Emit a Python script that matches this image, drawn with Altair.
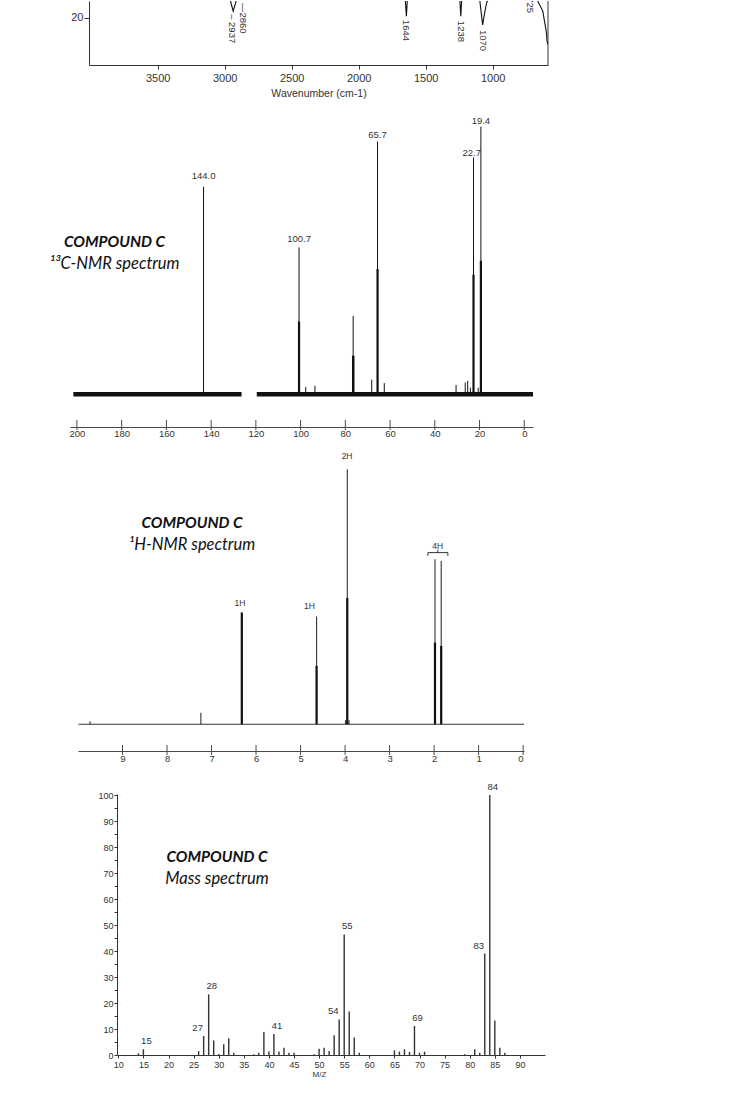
import altair as alt
import pandas as pd

# ---------------- IR spectrum (upper part cut off in the picture) ----------------
IR_WN = [4010, 3100, 2990, 2937, 2900, 2860, 2820, 1660, 1644, 1630, 1252, 1238, 1224,
         1110, 1075, 1060, 1045, 1025, 1000, 760, 725, 700, 664, 626, 600, 594, 587]
IR_T = [40, 35, 30, 22.0, 27, 25.6, 30, 30, 20.5, 30, 30, 20.5, 30,
        30, 17.9, 21.5, 24.5, 26, 30, 30, 26, 27, 25, 22, 16, 13.1, 12]
IR_LABELS = ["\u2013 2937", "\u20142860", "1644", "1238", "1070", "725"]
IR_LABEL_WN = [2945, 2860, 1644, 1238, 1070, 725]
IR_LABEL_T = [21.1, 24.4, 19.4, 19.1, 16.4, 26.1]
IR_XTICKS = [3500, 3000, 2500, 2000, 1500, 1000]
IR_YTICKS = [20]
IR_XTITLE = "Wavenumber (cm-1)"

# ---------------- 13C NMR ----------------
C13_BASE_FROM = [201.6, 119.6]
C13_BASE_TO = [126.4, -3.9]
C13_PPM = [143.4, 100.7, 97.7, 93.6, 76.8, 76.5, 76.2, 68.2, 65.6, 62.6,
           30.5, 26.4, 25.3, 24.1, 22.7, 20.6, 19.4]
C13_INT = [77.6, 54.9, 2.8, 3.2, 14.4, 29.3, 14.4, 5.5, 94.5, 4.2,
           3.5, 4.4, 5.0, 2.5, 88.5, 2.5, 100.0]
C13_CORE_PPM = [100.7, 76.5, 65.6, 22.7, 19.4]
C13_CORE_INT = [27.2, 14.4, 46.8, 44.7, 49.9]
C13_LABELS = ["144.0", "100.7", "65.7", "22.7", "19.4"]
C13_LABEL_PPM = [143.4, 100.7, 65.6, 23.5, 19.4]
C13_LABEL_INT = [81.6, 58.2, 97.0, 90.0, 102.0]
C13_TICKS = [200, 180, 160, 140, 120, 100, 80, 60, 40, 20, 0]

# ---------------- 1H NMR ----------------
H1_BASE = [9.99, -0.02]
H1_PPM = [9.73, 7.24, 6.32, 4.64, 3.99, 3.95, 3.91, 1.98, 1.84]
H1_INT = [1.2, 4.5, 43.8, 42.2, 1.6, 100.0, 1.6, 64.7, 64.0]
H1_CORE_PPM = [6.32, 4.64, 3.95, 1.98, 1.84]
H1_CORE_INT = [43.8, 22.9, 49.5, 32.0, 30.7]
H1_LABELS = ["1H", "1H", "2H", "4H"]
H1_LABEL_PPM = [6.36, 4.80, 3.955, 1.917]
H1_LABEL_INT = [47.5, 46.5, 105.2, 70.0]
H1_GROUP = [2.14, 1.69]          # bracket over the 4H pair
H1_GROUP_INT = [66.0, 67.3, 68.4]
H1_TICKS = [9, 8, 7, 6, 5, 4, 3, 2, 1, 0]

# ---------------- Mass spectrum ----------------
MS_MZ = [14, 15, 26, 27, 28, 29, 30, 31, 32, 33, 37, 38, 39, 40, 41, 42, 43, 44, 45,
         49, 50, 51, 52, 53, 54, 55, 56, 57, 58, 65, 66, 67, 68, 69, 70, 71,
         79, 81, 82, 83, 84, 85, 86, 87]
MS_INT = [0.6, 2.2, 1.5, 7.3, 23.3, 5.6, 0.4, 4.1, 6.4, 0.9, 0.3, 0.9, 8.8, 1.3, 8.1, 1.3, 2.8, 0.9, 0.9,
          0.3, 2.4, 2.8, 1.5, 7.6, 13.7, 46.4, 16.7, 6.7, 0.9, 1.8, 1.3, 2.2, 1.2, 11.2, 0.9, 1.3,
          0.3, 2.2, 0.9, 39.0, 100.0, 13.3, 2.8, 0.9]
MS_LABELED_RIGHT = [15, 28, 41, 55, 69, 84]
MS_LABELED_LEFT = [27, 54, 83]
MS_XTICKS = list(range(10, 91, 5))
MS_YTICKS = list(range(0, 101, 5))
MS_XTITLE = "M/Z"

TITLE = "COMPOUND C"
SUBTITLES = ["\u00b9\u00b3C-NMR spectrum", "\u00b9H-NMR spectrum", "Mass spectrum"]

# ---------------- styling / layout ----------------
INK = "#111111"
GREY = "#333333"
AXC = "#4a4a4a"
FA = "Liberation Sans"
FT = "Lato"

L_IR, W_IR, H_IR = 88, 459, 64
IR_XDOM, IR_YDOM = [4013, 587], [6, 25]
L_C, W_C, H_C = 69, 463, 319
C_XDOM, C_YDOM = [203.1, -3.9], [-12.2, 107.0]
L_H, W_H, H_H = 77, 446, 281
H_XDOM, H_YDOM = [10.0, -0.02], [-10.5, 99.7]
L_M, W_M, H_M = 116, 428, 261
M_XDOM, M_YDOM = [9.74, 95.0], [0, 100.4]
GAP = 43
TOP_C = H_IR + GAP
TOP_H = TOP_C + H_C + GAP
TOP_M = TOP_H + H_H + GAP


def anchor():
    # tiny white mark at the panel's left edge so every row starts at x = 0
    return alt.Chart(pd.DataFrame({"v": [0]})).mark_rule(color="white").encode(
        x=alt.value(0), x2=alt.value(1), y=alt.value(0))


def titles(sub, cx, cy):
    d = pd.DataFrame({"v": [0]})
    t1 = alt.Chart(d).mark_text(text=TITLE, font=FT, fontSize=15.5, fontWeight="bold",
                                fontStyle="italic", color=INK, align="center",
                                baseline="middle").encode(x=alt.value(cx), y=alt.value(cy))
    t2 = alt.Chart(d).mark_text(text=sub, font=FT, fontSize=16.5, fontStyle="italic",
                                color=INK, align="center",
                                baseline="middle").encode(x=alt.value(cx), y=alt.value(cy + 22))
    return [t1, t2]


# ===== IR panel =====
ixs = alt.Scale(domain=IR_XDOM, range=[L_IR, L_IR + W_IR], nice=False, zero=False)
iys = alt.Scale(domain=IR_YDOM, nice=False, zero=False)
IR_XAX = alt.Axis(values=IR_XTICKS, format="d", title=IR_XTITLE, tickSize=4, labelFontSize=11,
                  titleFontSize=10.5, titleFontWeight="normal", labelPadding=3,
                  titlePadding=5, domainColor=GREY, tickColor=GREY, grid=False)
IR_YAX = alt.Axis(values=IR_YTICKS, format="d", title=None, tickSize=5, labelFontSize=11,
                  labelPadding=1, offset=-L_IR, domainColor=GREY, tickColor=GREY, grid=False)
ir_df = pd.DataFrame({"wn": IR_WN, "t": IR_T})
ir_line = alt.Chart(ir_df).mark_line(clip=True, color=INK, strokeWidth=1.1).encode(
    x=alt.X("wn:Q", scale=ixs, axis=IR_XAX),
    y=alt.Y("t:Q", scale=iys, axis=IR_YAX),
)
ir_frame = alt.Chart(pd.DataFrame({"wn": [IR_XDOM[1]]})).mark_rule(color=GREY).encode(
    x=alt.X("wn:Q", scale=ixs, axis=IR_XAX), y=alt.value(0), y2=alt.value(H_IR)
)
ir_lab = alt.Chart(pd.DataFrame({"wn": IR_LABEL_WN, "t": IR_LABEL_T, "s": IR_LABELS})).mark_text(
    angle=90, align="left", baseline="middle", font=FA, fontSize=9.5, color=GREY, clip=True
).encode(x=alt.X("wn:Q", scale=ixs, axis=IR_XAX), y=alt.Y("t:Q", scale=iys, axis=IR_YAX), text="s:N")
ir = alt.layer(anchor(), ir_line, ir_frame, ir_lab).properties(width=L_IR + W_IR, height=H_IR)

# ===== 13C panel =====
cxs = alt.Scale(domain=C_XDOM, range=[L_C, L_C + W_C], nice=False, zero=False)
cys = alt.Scale(domain=C_YDOM, nice=False, zero=False)
C_XAX = alt.Axis(values=C13_TICKS, format="d", title=None, ticks=False, tickSize=0,
                 labelFontSize=9.5, labelPadding=1, domainColor=AXC, labelColor=GREY, grid=False)
c_base = alt.Chart(pd.DataFrame({"a": C13_BASE_FROM, "b": C13_BASE_TO, "z": [0, 0]})).mark_rule(
    color=INK, strokeWidth=4.5
).encode(x=alt.X("a:Q", scale=cxs, axis=C_XAX), x2="b:Q", y=alt.Y("z:Q", scale=cys, axis=None))
c_pk = alt.Chart(pd.DataFrame({"p": C13_PPM, "h": C13_INT, "z": 0})).mark_rule(
    color=INK, strokeWidth=1
).encode(x=alt.X("p:Q", scale=cxs, axis=C_XAX), y=alt.Y("z:Q", scale=cys, axis=None), y2="h:Q")
c_core = alt.Chart(pd.DataFrame({"p": C13_CORE_PPM, "h": C13_CORE_INT, "z": 0})).mark_rule(
    color=INK, strokeWidth=2.2
).encode(x=alt.X("p:Q", scale=cxs, axis=C_XAX), y=alt.Y("z:Q", scale=cys, axis=None), y2="h:Q")
c_lab = alt.Chart(pd.DataFrame({"p": C13_LABEL_PPM, "h": C13_LABEL_INT, "s": C13_LABELS})).mark_text(
    font=FA, fontSize=9.5, color=GREY, baseline="middle"
).encode(x=alt.X("p:Q", scale=cxs, axis=C_XAX), y=alt.Y("h:Q", scale=cys, axis=None), text="s:N")
c_tk = alt.Chart(pd.DataFrame({"t": C13_TICKS})).mark_rule(color=AXC).encode(
    x=alt.X("t:Q", scale=cxs, axis=C_XAX), y=alt.value(H_C - 7), y2=alt.value(H_C + 3)
)
c13 = alt.layer(anchor(), c_base, c_pk, c_core, c_lab, c_tk,
                *titles(SUBTITLES[0], 113.5, 241 - TOP_C)).properties(width=L_C + W_C, height=H_C)

# ===== 1H panel =====
hxs = alt.Scale(domain=H_XDOM, range=[L_H, L_H + W_H], nice=False, zero=False)
hys = alt.Scale(domain=H_YDOM, nice=False, zero=False)
H_XAX = alt.Axis(values=H1_TICKS, format="d", title=None, ticks=False, tickSize=0,
                 labelFontSize=9.5, labelPadding=2, domainColor=AXC, labelColor=GREY, grid=False)
h_base = alt.Chart(pd.DataFrame({"a": [H1_BASE[0]], "b": [H1_BASE[1]], "z": [0]})).mark_rule(
    color=GREY, strokeWidth=1.2
).encode(x=alt.X("a:Q", scale=hxs, axis=H_XAX), x2="b:Q", y=alt.Y("z:Q", scale=hys, axis=None))
h_pk = alt.Chart(pd.DataFrame({"p": H1_PPM, "h": H1_INT, "z": 0})).mark_rule(
    color=GREY, strokeWidth=1.1
).encode(x=alt.X("p:Q", scale=hxs, axis=H_XAX), y=alt.Y("z:Q", scale=hys, axis=None), y2="h:Q")
h_core = alt.Chart(pd.DataFrame({"p": H1_CORE_PPM, "h": H1_CORE_INT, "z": 0})).mark_rule(
    color=INK, strokeWidth=2.2
).encode(x=alt.X("p:Q", scale=hxs, axis=H_XAX), y=alt.Y("z:Q", scale=hys, axis=None), y2="h:Q")
h_lab = alt.Chart(pd.DataFrame({"p": H1_LABEL_PPM, "h": H1_LABEL_INT, "s": H1_LABELS})).mark_text(
    font=FA, fontSize=8.5, color=GREY, baseline="middle"
).encode(x=alt.X("p:Q", scale=hxs, axis=H_XAX), y=alt.Y("h:Q", scale=hys, axis=None), text="s:N")
br_df = pd.DataFrame({
    "p": [H1_GROUP[0], H1_GROUP[0], H1_GROUP[1], H1_GROUP[1]],
    "h": [H1_GROUP_INT[0], H1_GROUP_INT[1], H1_GROUP_INT[1], H1_GROUP_INT[0]],
    "o": [0, 1, 2, 3],
})
h_br = alt.Chart(br_df).mark_line(color=GREY, strokeWidth=1).encode(
    x=alt.X("p:Q", scale=hxs, axis=H_XAX), y=alt.Y("h:Q", scale=hys, axis=None), order="o:Q"
)
h_brt = alt.Chart(pd.DataFrame({"p": [H1_LABEL_PPM[3]], "a": [H1_GROUP_INT[1]], "b": [H1_GROUP_INT[2]]})).mark_rule(
    color=GREY
).encode(x=alt.X("p:Q", scale=hxs, axis=H_XAX), y=alt.Y("a:Q", scale=hys, axis=None), y2="b:Q")
h_tk = alt.Chart(pd.DataFrame({"t": H1_TICKS})).mark_rule(color=AXC).encode(
    x=alt.X("t:Q", scale=hxs, axis=H_XAX), y=alt.value(H_H - 6), y2=alt.value(H_H + 4)
)
h1 = alt.layer(anchor(), h_base, h_pk, h_core, h_lab, h_br, h_brt, h_tk,
               *titles(SUBTITLES[1], 191, 522 - TOP_H)).properties(width=L_H + W_H, height=H_H)

# ===== Mass spectrum panel =====
mxs = alt.Scale(domain=M_XDOM, range=[L_M, L_M + W_M], nice=False, zero=False)
mys = alt.Scale(domain=M_YDOM, nice=False, zero=False)
M_XAX = alt.Axis(values=MS_XTICKS, format="d", title=MS_XTITLE, tickSize=3, labelFontSize=9,
                 labelPadding=2, titleFontSize=8, titleFontWeight="normal", titlePadding=1,
                 titleX=318, domainColor=GREY, tickColor=GREY, labelColor=GREY,
                 titleColor=GREY, grid=False)
M_YAX = alt.Axis(values=MS_YTICKS, format="d", title=None, tickSize=3,
                 labelExpr="datum.value % 10 === 0 ? datum.label : ''",
                 labelFontSize=9, labelPadding=1, offset=-L_M, domainColor=GREY,
                 tickColor=GREY, labelColor=GREY, grid=False)
ms_df = pd.DataFrame({"mz": MS_MZ, "i": MS_INT, "z": 0})
m_bar = alt.Chart(ms_df).mark_rule(color=GREY, strokeWidth=1.4).encode(
    x=alt.X("mz:Q", scale=mxs, axis=M_XAX),
    y=alt.Y("z:Q", scale=mys, axis=M_YAX),
    y2="i:Q",
)
lab_r = ms_df[ms_df["mz"].isin(MS_LABELED_RIGHT)].assign(s=lambda d: d["mz"].astype(str))
lab_l = ms_df[ms_df["mz"].isin(MS_LABELED_LEFT)].assign(s=lambda d: d["mz"].astype(str))
m_lr = alt.Chart(lab_r).mark_text(font=FA, fontSize=9.5, color=GREY, baseline="bottom", dx=3, dy=-3).encode(
    x=alt.X("mz:Q", scale=mxs, axis=M_XAX), y=alt.Y("i:Q", scale=mys, axis=M_YAX), text="s:N")
m_ll = alt.Chart(lab_l).mark_text(font=FA, fontSize=9.5, color=GREY, baseline="bottom", dx=-6, dy=-3).encode(
    x=alt.X("mz:Q", scale=mxs, axis=M_XAX), y=alt.Y("i:Q", scale=mys, axis=M_YAX), text="s:N")
ms = alt.layer(anchor(), m_bar, m_lr, m_ll, *titles(SUBTITLES[2], 216, 856 - TOP_M)).properties(
    width=L_M + W_M, height=H_M)

chart = alt.vconcat(ir, c13, h1, ms, spacing=GAP, bounds="flush").properties(
    padding=0, background="white"
).configure_view(stroke=None).configure_axis(
    labelFont=FA, titleFont=FA, labelColor=GREY, titleColor=GREY
)

chart.save("out.html", embed_options={"renderer": "svg", "actions": False})
